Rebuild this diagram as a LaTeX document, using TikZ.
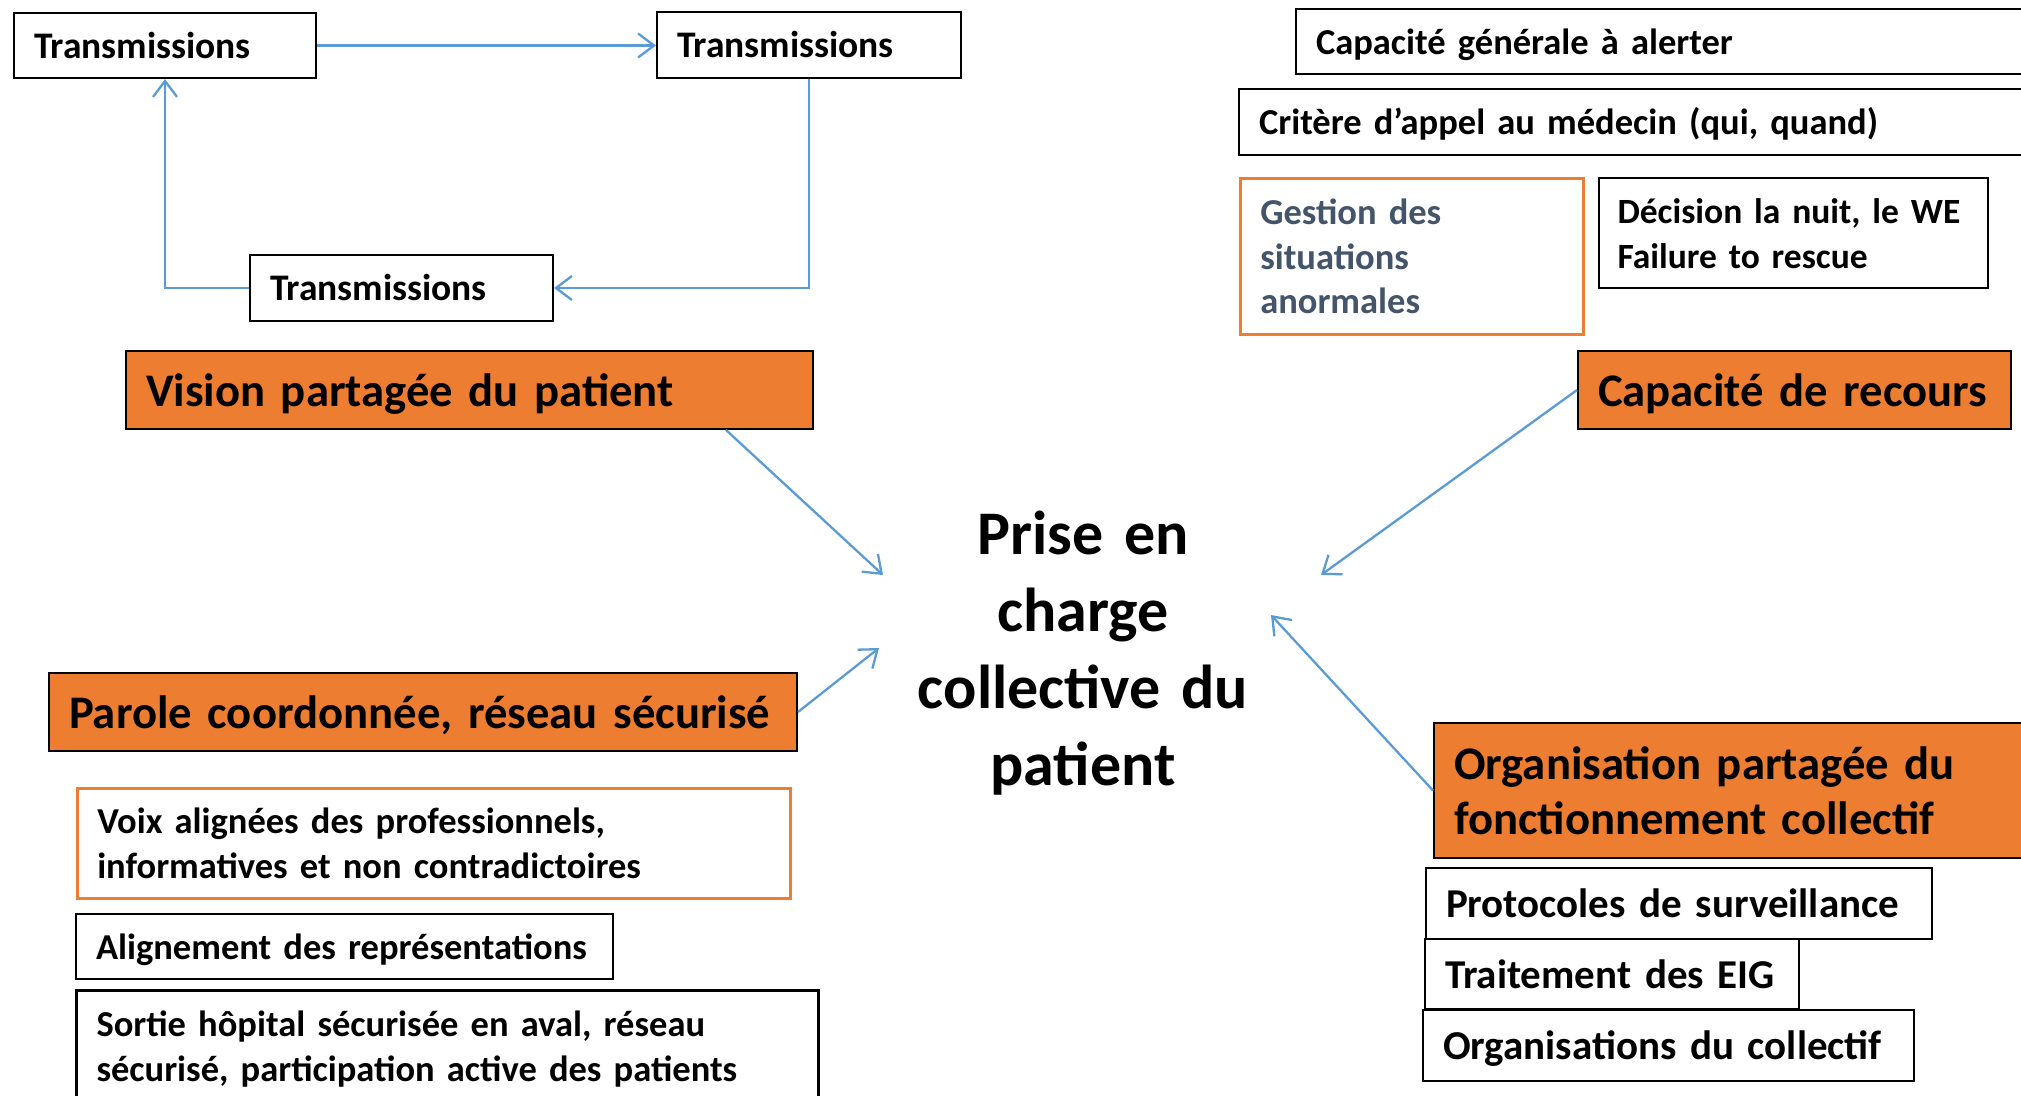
\documentclass[tikz,border=0pt]{standalone}
\usepackage{fontspec}
\setmainfont{Carlito}
\usetikzlibrary{arrows.meta}
\definecolor{accent}{HTML}{ED7D31}
\definecolor{linkblue}{HTML}{5B9BD5}
\definecolor{slate}{HTML}{44546A}

\begin{document}
\begin{tikzpicture}[x=1pt,y=-1pt,
  box/.style={draw=black,line width=2pt,fill=white,anchor=north west,
    inner xsep=20pt,inner ysep=0pt,align=left,text height=25.5pt,text depth=0pt,
    font=\fontsize{36.5}{44.5}\selectfont\bfseries},
  bigbox/.style={box,text height=28.7pt,font=\fontsize{41}{50}\selectfont\bfseries},
  theme/.style={box,fill=accent,text height=32.7pt,
    font=\fontsize{46.7}{55}\selectfont\bfseries},
  note/.style={box,draw=accent,line width=2.5pt},
  link/.style={linkblue,line width=2.3pt,-{Straight Barb[length=16pt,width=24pt]}}]
  \useasboundingbox (0,0) rectangle (2021,1095);
  \clip (0,0) rectangle (2021,1095);

  % boucle des transmissions
  \node[box,font=\fontsize{37.5}{45}\selectfont\bfseries,text width=262pt,minimum height=65pt] (trans1) at (13,12) {Transmissions};
  \node[box,font=\fontsize{37.5}{45}\selectfont\bfseries,text width=264pt,minimum height=66pt] (trans2) at (656,11) {Transmissions};
  \node[box,font=\fontsize{37.5}{45}\selectfont\bfseries,text width=263pt,minimum height=66pt] (trans3) at (249,254) {Transmissions};
  \draw[link] (trans1.east) -- (trans1.east -| trans2.west);
  \draw[link] (trans2.south) |- (trans3.east);
  \draw[link] (trans3.west) -| (trans1.south);

  \node[theme,text width=647pt,minimum height=78pt] (vision) at (125,350) {Vision partagée du patient};
  \node[theme,text width=708pt,minimum height=78pt] (parole) at (48,672) {Parole coordonnée, réseau sécurisé};
  \node[note,text width=673pt,minimum height=110pt,text depth=44.5pt] (voix) at (76,787)
    {Voix alignées des professionnels,\\informatives et non contradictoires};
  \node[box,text width=497pt,minimum height=65pt] (repres) at (75,913) {Alignement des représentations};
  \node[box,line width=3pt,text width=702pt,minimum height=111.5pt,text depth=44.5pt] (sortie) at (75,989)
    {Sortie hôpital sécurisée en aval, réseau\\sécurisé, participation active des patients};

  \node[box,text width=760pt,minimum height=65pt] (alerte) at (1295,8) {Capacité générale à alerter};
  \node[box,text width=810pt,minimum height=66pt] (appel) at (1238,88) {Critère d’appel au médecin (qui, quand)};
  \node[note,text=slate,text width=303pt,minimum height=156pt,text depth=89pt] (gestion) at (1239,177)
    {Gestion des\\situations\\anormales};
  \node[box,font=\fontsize{35.5}{44.5}\selectfont\bfseries,inner xsep=18.5pt,text width=352pt,
    minimum height=110pt,text depth=44.5pt] (nuit) at (1598,177)
    {Décision la nuit, le WE\\Failure to rescue};
  \node[theme,text width=393pt,minimum height=78pt] (recours) at (1577,350) {Capacité de recours};

  \node[theme,text width=610pt,minimum height=135pt,text depth=55pt] (orga) at (1433,722)
    {Organisation partagée du\\fonctionnement collectif};
  \node[bigbox,text width=466pt,minimum height=71pt] (proto) at (1425,867) {Protocoles de surveillance};
  \node[bigbox,text width=334pt,minimum height=70pt] (eig) at (1424,938) {Traitement des EIG};
  \node[bigbox,text width=451pt,minimum height=71pt] (collectif) at (1422,1009) {Organisations du collectif};

  \node[anchor=base,text width=420pt,align=center,font=\fontsize{62}{77}\selectfont\bfseries] (prise) at (1083,554)
    {Prise en\\charge\\collective du\\patient};

  \coordinate (tipV) at (883,575);
  \coordinate (tipP) at (879,648);
  \coordinate (tipR) at (1321,575);
  \coordinate (tipO) at (1271,615);
  \draw[link] ([xshift=601pt]vision.south west) -- (tipV);
  \draw[link] (parole.east) -- (tipP);
  \draw[link] (recours.west) -- (tipR);
  \draw[link] (orga.west) -- (tipO);
\end{tikzpicture}
\end{document}
